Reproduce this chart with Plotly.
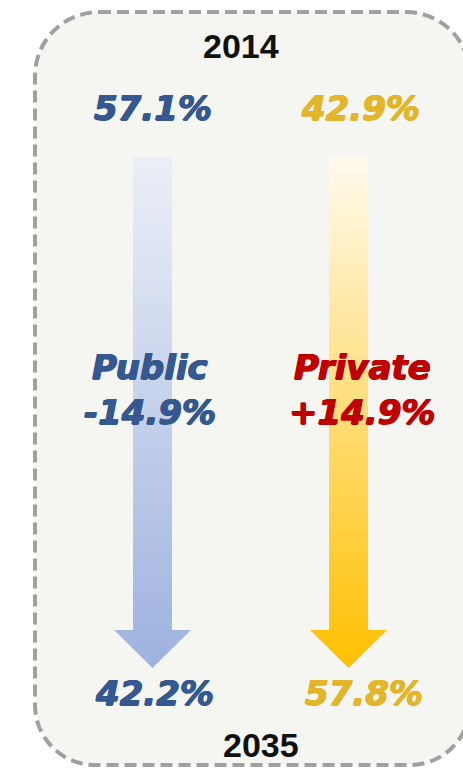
import plotly.graph_objects as go

# ---- data ----
sectors = ["Public", "Private"]
share_2014 = [57.1, 42.9]
share_2035 = [42.2, 57.8]
change = [-14.9, 14.9]
years = ["2014", "2035"]

# ---- styling / layout constants ----
W, H = 463, 768
centers = [152.5, 348.5]          # arrow centre per sector (px)
value_colors = ["#34588f", "#e2b52b"]
label_colors = ["#34588f", "#c00000"]
grad = [[[0, "#eceff7"], [1, "#9db2df"]],
        [[0, "#fffaee"], [1, "#ffc000"]]]
y_top, y_head, y_tip = 157, 630, 668
shaft_hw, head_hw = 19.5, 38.5

fig = go.Figure()

for i, s in enumerate(sectors):
    cx = centers[i]
    xs = [cx - shaft_hw, cx + shaft_hw, cx + shaft_hw, cx + head_hw, cx,
          cx - head_hw, cx - shaft_hw, cx - shaft_hw]
    ys = [y_top, y_top, y_head, y_head, y_tip, y_head, y_head, y_top]
    fig.add_trace(go.Scatter(
        x=xs, y=ys, mode="lines", fill="toself",
        line=dict(width=0, color="rgba(0,0,0,0)"),
        fillgradient=dict(type="vertical", colorscale=grad[i],
                          start=y_top, stop=y_tip),
        hoverinfo="skip", showlegend=False, name=s))

# rounded dashed frame
x0, y0, x1, y1 = 35, 12, 470, 765
rt, rb = 64, 60
k = 0.5523
path = (f"M {x0+rt},{y0} L {x1-rt},{y0} "
        f"C {x1-rt+k*rt},{y0} {x1},{y0+rt-k*rt} {x1},{y0+rt} "
        f"L {x1},{y1-rb} "
        f"C {x1},{y1-rb+k*rb} {x1-rb+k*rb},{y1} {x1-rb},{y1} "
        f"L {x0+rb},{y1} "
        f"C {x0+rb-k*rb},{y1} {x0},{y1-rb+k*rb} {x0},{y1-rb} "
        f"L {x0},{y0+rt} "
        f"C {x0},{y0+rt-k*rt} {x0+rt-k*rt},{y0} {x0+rt},{y0} Z")
fig.add_shape(type="path", path=path, xref="x", yref="y", layer="below",
              fillcolor="#f5f6f1",
              line=dict(color="#a0a0a0", width=4, dash="12px,6px"))


def heavy(color):
    return (f"0.7px 0 0 {color}, -0.7px 0 0 {color}, "
            f"0 0.5px 0 {color}, 0 -0.5px 0 {color}")


pct_font = dict(family="DejaVu Sans", size=34, weight="bold", style="italic")
year_font = dict(family="Liberation Sans", size=34, weight="bold",
                 color="#111111")

ann = []
ann.append(dict(x=241, y=45.5, text=years[0], font=year_font))
ann.append(dict(x=261, y=745, text=years[1], font=year_font))
value_x_top = [152.5, 360]
value_x_bot = [154, 364]
label_x = [150, 362]
for i, s in enumerate(sectors):
    vf = dict(pct_font, color=value_colors[i], shadow=heavy(value_colors[i]))
    lf = dict(pct_font, color=label_colors[i], shadow=heavy(label_colors[i]))
    ann.append(dict(x=value_x_top[i], y=107.5, text=f"{share_2014[i]:.1f}%", font=vf))
    ann.append(dict(x=value_x_bot[i], y=692.5, text=f"{share_2035[i]:.1f}%", font=vf))
    ann.append(dict(x=label_x[i], y=366.5, text=s, font=lf))
    ann.append(dict(x=label_x[i], y=411.5, text=f"{change[i]:+.1f}%", font=lf))
for a in ann:
    a.update(xref="x", yref="y", showarrow=False, xanchor="center",
             yanchor="middle")
fig.update_layout(annotations=ann)

fig.update_layout(
    width=W, height=H, margin=dict(l=0, r=0, t=0, b=0),
    paper_bgcolor="#ffffff", plot_bgcolor="#ffffff",
    xaxis=dict(range=[0, W], visible=False, fixedrange=True),
    yaxis=dict(range=[H, 0], visible=False, fixedrange=True),
    showlegend=False,
)

fig.write_html("out.html", config={"displayModeBar": False})
